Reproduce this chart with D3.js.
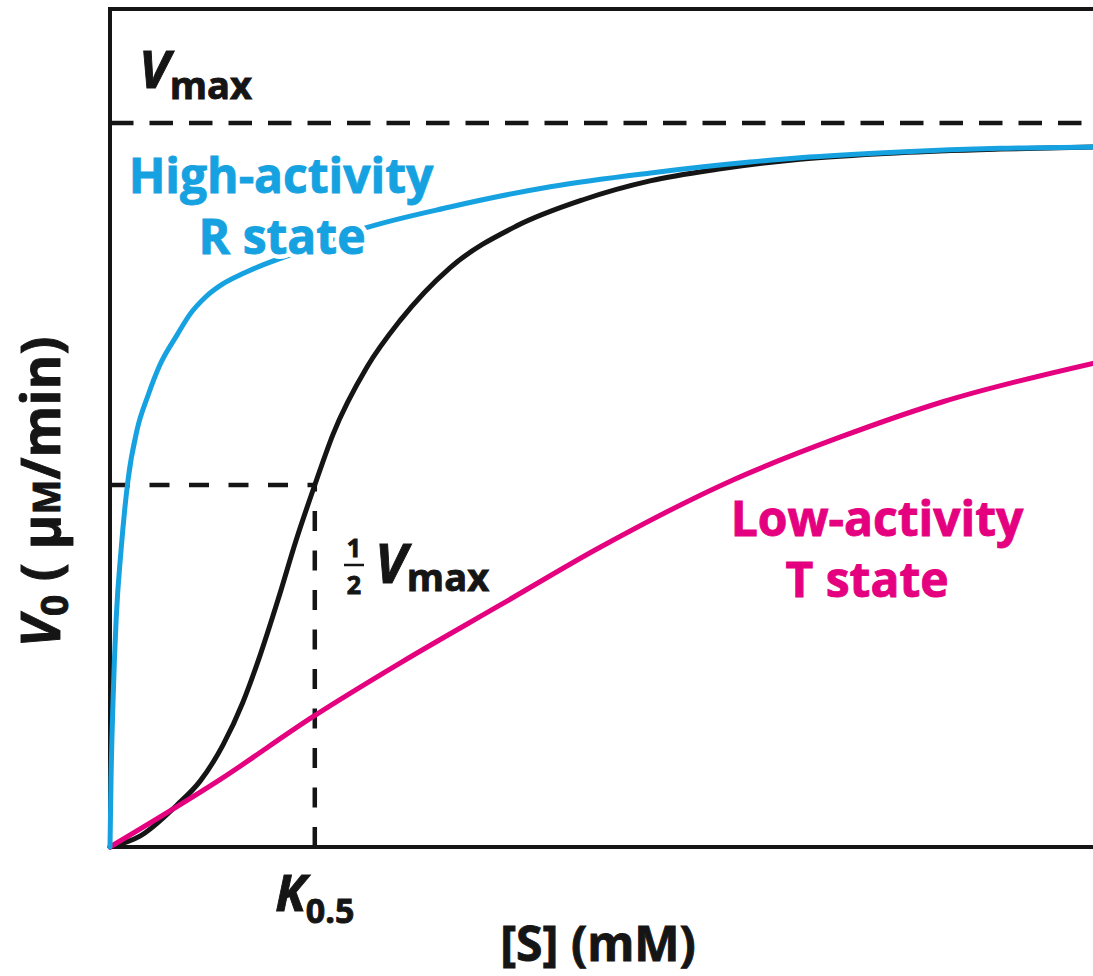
<!DOCTYPE html>
<html>
<head>
<meta charset="utf-8">
<script src="https://cdn.jsdelivr.net/npm/d3@7"></script>
<style>
  body { margin: 0; background: #fff; }
  text { font-family: "Open Sans", "Noto Sans", sans-serif; font-weight: 700; }
</style>
</head>
<body>
<svg id="chart" width="1093" height="976"></svg>
<script>
// Substrate concentration [S] (mM) and initial velocity V0 (fraction of Vmax)
const rStateS = [0, 0.005, 0.015, 0.03, 0.054, 0.088, 0.132, 0.186, 0.244, 0.327, 0.391, 0.464, 0.547, 0.649, 0.747, 0.93, 1.235, 1.66, 2.15, 2.64, 3.125, 3.369, 3.857, 4.346, 4.8];
const rStateV = [0, 0.093, 0.203, 0.314, 0.41, 0.507, 0.576, 0.624, 0.666, 0.707, 0.736, 0.759, 0.777, 0.792, 0.804, 0.823, 0.854, 0.884, 0.912, 0.931, 0.946, 0.952, 0.96, 0.965, 0.967];

const sigmoidS = [0, 0.146, 0.327, 0.44, 0.552, 0.649, 0.732, 0.82, 0.908, 1.0, 1.089, 1.255, 1.416, 1.66, 1.987, 2.31, 2.637, 2.964, 3.369, 3.857, 4.346, 4.8];
const sigmoidV = [0, 0.015, 0.058, 0.091, 0.141, 0.2, 0.264, 0.341, 0.423, 0.5, 0.57, 0.663, 0.727, 0.8, 0.858, 0.894, 0.92, 0.936, 0.95, 0.959, 0.964, 0.967];

const tStateS = [0, 0.537, 0.991, 1.416, 1.904, 2.393, 3.042, 3.564, 4.067, 4.8];
const tStateV = [0, 0.093, 0.18, 0.254, 0.334, 0.414, 0.507, 0.566, 0.615, 0.668];

const vmax = 1.0;
const k05 = 1.0;
const sDomain = [0, 4.8];

const blue = "#16a2e0";
const pink = "#e4007f";
const ink = "#151515";

const svg = d3.select("#chart");
const margin = { left: 110, top: 9, right: 0, bottom: 129 };
const W = 1093, H = 976;

const x = d3.scaleLinear().domain(sDomain).range([margin.left, W - margin.right]);
const y = d3.scaleLinear().domain([0, vmax]).range([H - margin.bottom, 123]);

// Frame: left axis, bottom axis, top border
svg.append("path")
  .attr("d", `M${W + 5},${margin.top}H${margin.left}V${y(0)}H${W + 5}`)
  .attr("fill", "none").attr("stroke", ink).attr("stroke-width", 4);

// Reference lines: Vmax, half Vmax, K0.5
svg.append("line")
  .attr("x1", x(0)).attr("x2", W).attr("y1", y(vmax)).attr("y2", y(vmax))
  .attr("stroke", ink).attr("stroke-width", 4.5).attr("stroke-dasharray", "23.5,16");
svg.append("line")
  .attr("x1", x(0)).attr("x2", x(k05)).attr("y1", y(vmax / 2)).attr("y2", y(vmax / 2))
  .attr("stroke", ink).attr("stroke-width", 4.5).attr("stroke-dasharray", "20,19.5");
svg.append("line")
  .attr("x1", x(k05)).attr("x2", x(k05)).attr("y1", y(0)).attr("y2", y(vmax / 2))
  .attr("stroke", ink).attr("stroke-width", 4.5).attr("stroke-dasharray", "20,19.5");

// Curves
const line = d3.line()
  .x(d => x(d[0])).y(d => y(d[1]))
  .curve(d3.curveMonotoneX);

const series = [
  { s: sigmoidS, v: sigmoidV, color: ink },
  { s: tStateS, v: tStateV, color: pink },
  { s: rStateS, v: rStateV, color: blue }
];
svg.append("g").selectAll("path").data(series).join("path")
  .attr("d", d => line(d.s.map((s, i) => [s, d.v[i]])))
  .attr("fill", "none")
  .attr("stroke", d => d.color)
  .attr("stroke-width", 5)
  .attr("stroke-linecap", "round");

// Heavier text: fill plus a thin outline in the same colour
function heavy(sel, color) {
  return sel.attr("fill", color).attr("stroke", color).attr("stroke-width", 0.9);
}

// Vmax label (top left)
const vmaxLabel = heavy(svg.append("text").attr("x", 139).attr("y", 88), ink);
vmaxLabel.append("tspan").attr("font-style", "italic").attr("font-size", 52).text("V");
vmaxLabel.append("tspan").attr("font-size", 38).attr("dy", 11).text("max");

// State labels with a white halo that knocks out the curve behind them
function stateLabel(lines, cx, baselines, color) {
  lines.forEach((t, i) => {
    svg.append("text")
      .attr("x", cx[i]).attr("y", baselines[i])
      .attr("text-anchor", "middle").attr("font-size", 48)
      .attr("fill", "#fff").attr("stroke", "#fff").attr("stroke-width", 10)
      .text(t);
    heavy(svg.append("text")
      .attr("x", cx[i]).attr("y", baselines[i])
      .attr("text-anchor", "middle").attr("font-size", 48), color)
      .text(t);
  });
}
stateLabel(["High-activity", "R state"], [281, 282], [193, 254], blue);
stateLabel(["Low-activity", "T state"], [877, 867], [536, 597], pink);

// 1/2 Vmax label: stacked fraction
const fx = 354;
heavy(svg.append("text").attr("x", fx).attr("y", 557).attr("text-anchor", "middle")
  .attr("font-size", 25), ink).text("1");
svg.append("line").attr("x1", fx - 10).attr("x2", fx + 10).attr("y1", 565).attr("y2", 565)
  .attr("stroke", ink).attr("stroke-width", 2.5);
heavy(svg.append("text").attr("x", fx).attr("y", 594).attr("text-anchor", "middle")
  .attr("font-size", 25), ink).text("2");
const halfLabel = heavy(svg.append("text").attr("x", 375).attr("y", 583), ink);
halfLabel.append("tspan").attr("font-style", "italic").attr("font-size", 54).text("V");
halfLabel.append("tspan").attr("font-size", 38).attr("dy", 8).text("max");

// K0.5 label on the x axis
const kLabel = heavy(svg.append("text").attr("x", x(k05)).attr("y", 911)
  .attr("text-anchor", "middle"), ink);
kLabel.append("tspan").attr("font-style", "italic").attr("font-size", 50).text("K");
kLabel.append("tspan").attr("font-size", 34).attr("dy", 12).text("0.5");

// Axis titles
heavy(svg.append("text").attr("x", 598).attr("y", 961).attr("text-anchor", "middle")
  .attr("font-size", 48), ink).text("[S] (mM)");

const yTitle = heavy(svg.append("text")
  .attr("transform", "translate(60,492) rotate(-90)")
  .attr("text-anchor", "middle").attr("font-size", 53), ink);
yTitle.append("tspan").attr("font-style", "italic").text("V");
yTitle.append("tspan").attr("font-size", 37).attr("dy", 8).text("0");
yTitle.append("tspan").attr("dy", -8).text(" ( μ");
yTitle.append("tspan").attr("font-size", 37).text("M");
yTitle.append("tspan").text("/min)");
</script>
</body>
</html>
